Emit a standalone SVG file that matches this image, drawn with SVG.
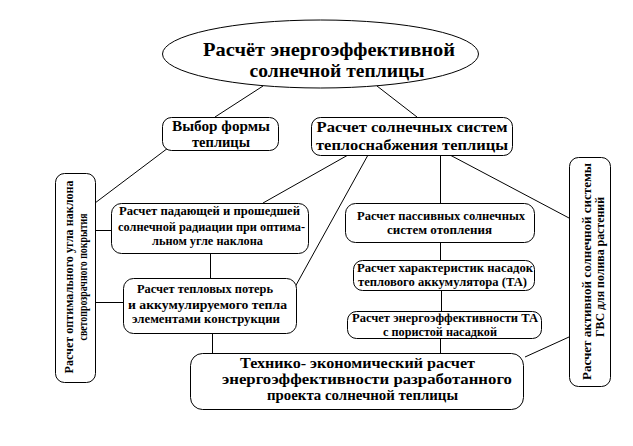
<svg xmlns="http://www.w3.org/2000/svg" width="633" height="446" viewBox="0 0 633 446">
<style>
.b{fill:#fff;stroke:#000;stroke-width:1}
.t{font-family:'Liberation Serif','DejaVu Serif',serif;font-weight:bold;fill:#000;text-anchor:middle}
.f19{font-size:19px}
.f15{font-size:15px}
.f14{font-size:14px}
.f13{font-size:13px}
.f12{font-size:12px}
.c line{stroke:#000;stroke-width:1}
</style>
<rect width="633" height="446" fill="#fff"/>
<g class="c" id="connectors">
<line x1="263" y1="86" x2="215" y2="117"/>
<line x1="377" y1="86" x2="417" y2="117"/>
<line x1="168" y1="148" x2="95" y2="203"/>
<line x1="95" y1="230.5" x2="111" y2="230.5"/>
<line x1="95" y1="302.5" x2="123" y2="302.5"/>
<line x1="210.5" y1="253" x2="210.5" y2="278"/>
<line x1="212.5" y1="333" x2="212.5" y2="353"/>
<line x1="348" y1="155" x2="263" y2="203"/>
<line x1="368" y1="155" x2="295" y2="287"/>
<line x1="440.5" y1="155" x2="440.5" y2="203"/>
<line x1="450" y1="155" x2="569" y2="218"/>
<line x1="440.5" y1="242" x2="440.5" y2="260"/>
<line x1="441.5" y1="290" x2="441.5" y2="311"/>
<line x1="440.5" y1="338" x2="440.5" y2="353"/>
<line x1="525" y1="357" x2="569" y2="337"/>
</g>
<g id="root">
<ellipse class="b" cx="320.5" cy="54" rx="158" ry="34"/>
<text class="t f19" x="329" y="56" textLength="252" lengthAdjust="spacingAndGlyphs">Расчёт энергоэффективной</text>
<text class="t f19" x="337" y="77" textLength="175" lengthAdjust="spacingAndGlyphs">солнечной теплицы</text>
</g>
<g id="shape">
<rect class="b" x="162.5" y="117.5" width="116" height="33" rx="9"/>
<text class="t f15" x="221" y="131" textLength="98" lengthAdjust="spacingAndGlyphs">Выбор формы</text>
<text class="t f15" x="221" y="147" textLength="58" lengthAdjust="spacingAndGlyphs">теплицы</text>
</g>
<g id="solar">
<rect class="b" x="311.5" y="117.5" width="201" height="38" rx="9"/>
<text class="t f15" x="412" y="132" textLength="191" lengthAdjust="spacingAndGlyphs">Расчет  солнечных систем</text>
<text class="t f15" x="412" y="150" textLength="192" lengthAdjust="spacingAndGlyphs">теплоснабжения теплицы</text>
</g>
<g id="angle">
<rect class="b" x="55.5" y="173.5" width="40" height="209" rx="9"/>
<text class="t f13" transform="translate(73,277) rotate(-90)" x="0" y="0" textLength="193" lengthAdjust="spacingAndGlyphs">Расчет оптимального угла наклона</text>
<text class="t f13" transform="translate(87,277) rotate(-90)" x="0" y="0" textLength="127" lengthAdjust="spacingAndGlyphs">светопрозрачного   покрытия</text>
</g>
<g id="radiation">
<rect class="b" x="111.5" y="203.5" width="197" height="50" rx="10"/>
<text class="t f13" x="209.5" y="215" textLength="181" lengthAdjust="spacingAndGlyphs">Расчет падающей и прошедшей</text>
<text class="t f13" x="211.5" y="231" textLength="187" lengthAdjust="spacingAndGlyphs">солнечной  радиации при оптима-</text>
<text class="t f13" x="207.5" y="245" textLength="111" lengthAdjust="spacingAndGlyphs">льном угле наклона</text>
</g>
<g id="losses">
<rect class="b" x="123.5" y="278.5" width="173" height="55" rx="10"/>
<text class="t f13" x="205" y="293" textLength="136" lengthAdjust="spacingAndGlyphs">Расчет тепловых потерь</text>
<text class="t f13" x="207.5" y="309" textLength="159" lengthAdjust="spacingAndGlyphs">и   аккумулируемого  тепла</text>
<text class="t f13" x="206" y="323" textLength="148" lengthAdjust="spacingAndGlyphs">элементами  конструкции</text>
</g>
<g id="passive">
<rect class="b" x="345.5" y="203.5" width="189" height="39" rx="10"/>
<text class="t f13" x="441" y="220" textLength="168" lengthAdjust="spacingAndGlyphs">Расчет пассивных солнечных</text>
<text class="t f13" x="439.5" y="234" textLength="105" lengthAdjust="spacingAndGlyphs">систем  отопления</text>
</g>
<g id="accum">
<rect class="b" x="353.5" y="260.5" width="181" height="30" rx="9"/>
<text class="t f13" x="445" y="272" textLength="176" lengthAdjust="spacingAndGlyphs">Расчет  характеристик  насадок</text>
<text class="t f13" x="442.5" y="286" textLength="169" lengthAdjust="spacingAndGlyphs">теплового аккумулятора (ТА)</text>
</g>
<g id="efficiency">
<rect class="b" x="347.5" y="311.5" width="194" height="27" rx="9"/>
<text class="t f13" x="445" y="322" textLength="186" lengthAdjust="spacingAndGlyphs">Расчет энергоэффективности ТА</text>
<text class="t f12" x="440" y="335.5" textLength="114" lengthAdjust="spacingAndGlyphs">с пористой насадкой</text>
</g>
<g id="active">
<rect class="b" x="569.5" y="157.5" width="41" height="229" rx="9"/>
<text class="t f13" transform="translate(591,271.5) rotate(-90)" x="0" y="0" textLength="217" lengthAdjust="spacingAndGlyphs">Расчет активной  солнечной системы</text>
<text class="t f13" transform="translate(604,267) rotate(-90)" x="0" y="0" textLength="140" lengthAdjust="spacingAndGlyphs">ГВС  для полива растений</text>
</g>
<g id="economic">
<rect class="b" x="190.5" y="353.5" width="333" height="56" rx="12"/>
<text class="t f15" x="357.5" y="368" textLength="235" lengthAdjust="spacingAndGlyphs">Технико- экономический  расчет</text>
<text class="t f15" x="367" y="384" textLength="290" lengthAdjust="spacingAndGlyphs">энергоэффективности    разработанного</text>
<text class="t f15" x="362.5" y="400" textLength="191" lengthAdjust="spacingAndGlyphs">проекта  солнечной теплицы</text>
</g>
</svg>
